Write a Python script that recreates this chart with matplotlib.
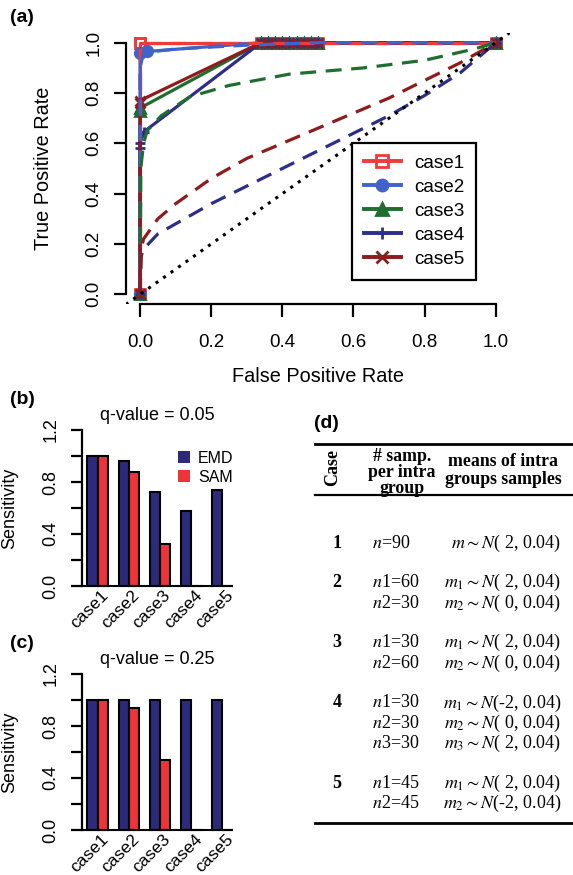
import matplotlib
matplotlib.use('Agg')
import matplotlib.pyplot as plt
import matplotlib.transforms as mtransforms
import numpy as np
from matplotlib.lines import Line2D
from matplotlib.patches import Patch

plt.rcParams['font.family'] = ['Liberation Sans', 'DejaVu Sans']
plt.rcParams['mathtext.fontset'] = 'stix'

# ---------------- data ----------------
cases = ['case1', 'case2', 'case3', 'case4', 'case5']
case_colors = ['#EE3B3B', '#3F63C9', '#1F6E30', '#2E2E88', '#8E1C1C']
case_markers = ['s', 'o', '^', '+', 'x']

# ROC curves, EMD (solid)
emd_fpr = [
    [0, 0, 0, 0.34, 0.36, 0.38, 0.40, 0.42, 0.44, 0.46, 0.48, 0.50, 1.0],
    [0, 0, 0.02, 0.34, 0.36, 0.38, 0.40, 0.42, 0.44, 0.46, 0.48, 0.50, 1.0],
    [0, 0, 0, 0.34, 0.36, 0.38, 0.40, 0.42, 0.44, 0.46, 0.48, 0.50, 1.0],
    [0, 0, 0, 0.01, 0.34, 0.36, 0.38, 0.40, 0.42, 0.44, 0.46, 0.48, 0.50, 1.0],
    [0, 0, 0, 0.34, 0.36, 0.38, 0.40, 0.42, 0.44, 0.46, 0.48, 0.50, 1.0],
]
emd_tpr = [
    [0, 1.0, 1.0, 1, 1, 1, 1, 1, 1, 1, 1, 1, 1],
    [0, 0.96, 0.965, 1, 1, 1, 1, 1, 1, 1, 1, 1, 1],
    [0, 0.73, 0.74, 1, 1, 1, 1, 1, 1, 1, 1, 1, 1],
    [0, 0.58, 0.60, 0.645, 1, 1, 1, 1, 1, 1, 1, 1, 1, 1],
    [0, 0.76, 0.77, 1, 1, 1, 1, 1, 1, 1, 1, 1, 1],
]

# ROC curves, SAM (dashed)
sam_fpr = [
    [0, 0, 1.0],
    [0, 0, 0.01, 0.1, 0.3, 0.5, 1.0],
    [0, 0.002, 0.01, 0.02, 0.06, 0.14, 0.25, 0.42, 0.63, 0.8, 0.94, 1.0],
    [0, 0.003, 0.01, 0.05, 0.1, 0.2, 0.3, 0.4, 0.5, 0.6, 0.7, 0.8, 0.9, 1.0],
    [0, 0.003, 0.01, 0.05, 0.1, 0.2, 0.3, 0.4, 0.5, 0.6, 0.7, 0.8, 0.9, 1.0],
]
sam_tpr = [
    [0, 1.0, 1.0],
    [0, 0.9, 0.96, 0.975, 0.99, 1.0, 1.0],
    [0, 0.5, 0.6, 0.65, 0.71, 0.785, 0.83, 0.875, 0.9, 0.93, 0.975, 1.0],
    [0, 0.15, 0.18, 0.24, 0.28, 0.36, 0.43, 0.5, 0.57, 0.64, 0.71, 0.79, 0.88, 1.0],
    [0, 0.18, 0.22, 0.3, 0.36, 0.46, 0.54, 0.6, 0.66, 0.72, 0.78, 0.85, 0.92, 1.0],
]

# sensitivity bars
emd_q05 = [1.0, 0.964, 0.725, 0.579, 0.738]
sam_q05 = [1.0, 0.879, 0.323, 0.0, 0.0]
emd_q25 = [1.0, 1.0, 1.0, 1.0, 1.0]
sam_q25 = [1.0, 0.941, 0.538, 0.0, 0.0]
emd_color = '#2D2A7C'
sam_color = '#EE3339'

# table (d)
table_case = ['1', '2', '3', '4', '5']
table_n = [[r'$n$=90'],
           [r'$n$1=60', r'$n$2=30'],
           [r'$n$1=30', r'$n$2=60'],
           [r'$n$1=30', r'$n$2=30', r'$n$3=30'],
           [r'$n$1=45', r'$n$2=45']]
table_means = [[r'$m\sim N$( 2, 0.04)'],
               [r'$m_1\sim N$( 2, 0.04)', r'$m_2\sim N$( 0, 0.04)'],
               [r'$m_1\sim N$( 2, 0.04)', r'$m_2\sim N$( 0, 0.04)'],
               [r'$m_1\sim N$(-2, 0.04)', r'$m_2\sim N$( 0, 0.04)', r'$m_3\sim N$( 2, 0.04)'],
               [r'$m_1\sim N$( 2, 0.04)', r'$m_2\sim N$(-2, 0.04)']]

W, H = 573, 875


def fx(x):
    return x / W


def fy(y):
    return 1 - y / H


fig = plt.figure(figsize=(W / 100, H / 100), dpi=100)

# ---------------- (a) ROC ----------------
ax = fig.add_axes([fx(125.8), fy(304.4), 384.2 / W, 271.8 / H])
for f, t, c, m in zip(emd_fpr, emd_tpr, case_colors, case_markers):
    mfc = 'none' if m == 's' else c
    ax.plot(f, t, color=c, lw=2.3, marker=m, ms=7.5, mfc=mfc, mew=2.0, clip_on=False)
for f, t, c in zip(sam_fpr, sam_tpr, case_colors):
    ax.plot(f, t, color=c, lw=2.3, ls=(0, (5, 3)), clip_on=False)
ax.axline((0, 0), (1, 1), color='black', lw=2.2, ls=(0, (1, 2.0)))

ax.set_xlim(-0.04, 1.04)
ax.set_ylim(-0.04, 1.04)
ticks = np.arange(0, 1.01, 0.2)
ax.set_xticks(ticks, [f'{v:.1f}' for v in ticks])
ax.set_yticks(ticks, [f'{v:.1f}' for v in ticks])
for s in ['top', 'right']:
    ax.spines[s].set_visible(False)
ax.spines['left'].set_bounds(0, 1)
ax.spines['bottom'].set_bounds(0, 1)
for s in ['left', 'bottom']:
    ax.spines[s].set_linewidth(1.6)
ax.tick_params(direction='out', length=9, width=1.6, labelsize=13.5, pad=12)
ax.tick_params(axis='y', pad=8)
for lab in ax.get_yticklabels():
    lab.set_rotation(90)
    lab.set_va('center')
fig.text(fx(44), fy(168.5), 'True Positive Rate', rotation=90, ha='center', va='center', fontsize=14.3)
fig.text(fx(318), fy(377), 'False Positive Rate', ha='center', va='center', fontsize=14.3)

handles = []
for c, m in zip(case_colors, case_markers):
    mfc = 'none' if m == 's' else c
    handles.append(Line2D([], [], color=c, lw=2.8, marker=m, ms=8, mfc=mfc, mew=2.0))
leg = ax.legend(handles, cases, loc='upper left', bbox_to_anchor=(0.589, 0.594), borderaxespad=0,
                fontsize=13.6, handlelength=1.95, handletextpad=0.7, labelspacing=0.36,
                borderpad=0.62, fancybox=False, edgecolor='black', framealpha=1)
leg.get_frame().set_linewidth(1.6)
fig.text(fx(10), fy(18), '(a)', fontsize=14, fontweight='bold', ha='left', va='center')


# ---------------- (b), (c) bars ----------------
def bar_panel(top_px, emd, sam, title, legend):
    h = 168.4
    a = fig.add_axes([fx(81.5), fy(top_px + h), 157.2 / W, h / H])
    emd_x = 1 + 3 * np.arange(len(cases))
    sam_x = emd_x + 1
    a.bar(emd_x, emd, width=1, align='edge', color=emd_color, edgecolor='black', lw=1.5)
    a.bar(sam_x, sam, width=1, align='edge', color=sam_color, edgecolor='black', lw=1.5)
    lo, hi = emd_x[0], sam_x[-1] + 1
    a.set_xlim(lo - 0.04 * (hi - lo), hi + 0.04 * (hi - lo))
    a.set_ylim(-0.048, 1.248)
    a.hlines(0, a.get_xlim()[0], hi, color='black', lw=1.5)
    for s in ['top', 'right', 'bottom']:
        a.spines[s].set_visible(False)
    a.spines['left'].set_bounds(0, 1.2)
    a.spines['left'].set_linewidth(1.6)
    yt = np.arange(0, 1.21, 0.2)
    a.set_yticks(yt, [f'{v:.1f}' if i % 2 == 0 else '' for i, v in enumerate(yt)])
    a.tick_params(axis='y', direction='out', length=8, width=1.6, labelsize=13, pad=8)
    for lab in a.get_yticklabels():
        lab.set_rotation(90)
        lab.set_va('center')
    a.set_xticks([])
    off = mtransforms.offset_copy(a.transData, fig=fig, x=3, y=-2, units='dots')
    for xc, name in zip(emd_x + 1, cases):
        a.text(xc, 0, name, transform=off, rotation=45, rotation_mode='anchor',
               ha='right', va='top', fontsize=12.5)
    a.text(0.48, 1.05, title, transform=a.transAxes, ha='center', va='center', fontsize=13)
    a.set_ylabel('Sensitivity', fontsize=13, labelpad=6)
    a.yaxis.set_label_coords((18 - 81.5) / 157.2, 0.5)
    if legend:
        a.legend([Patch(facecolor=emd_color, edgecolor='none'),
                  Patch(facecolor=sam_color, edgecolor='none')], ['EMD', 'SAM'],
                 loc='upper left', bbox_to_anchor=(0.614, 0.84), borderaxespad=0,
                 borderpad=0, frameon=False, fontsize=11.5, handlelength=0.75,
                 handleheight=0.75, handletextpad=0.5, labelspacing=0.25)
    return a


bar_panel(423.8, emd_q05, sam_q05, 'q-value = 0.05', True)
bar_panel(667.8, emd_q25, sam_q25, 'q-value = 0.25', False)
fig.text(fx(10), fy(400), '(b)', fontsize=14, fontweight='bold', ha='left', va='center')
fig.text(fx(10), fy(643), '(c)', fontsize=14, fontweight='bold', ha='left', va='center')

# ---------------- (d) table ----------------
fig.text(fx(314), fy(423), '(d)', fontsize=14, fontweight='bold', ha='left', va='center')
serif = ['Liberation Serif', 'DejaVu Serif']
for y, lw in [(443.5, 2.0), (495, 1.6), (822.5, 2.0)]:
    fig.add_artist(Line2D([fx(315), fx(573)], [fy(y), fy(y)], transform=fig.transFigure,
                          color='black', lw=lw))
fig.text(fx(333), fy(467), 'Case', rotation=90, ha='center', va='center', fontsize=13,
         fontweight='bold', family=serif)
fig.text(fx(402), fy(472.5), '# samp.\nper intra\ngroup', ha='center', va='center', fontsize=12.8,
         fontweight='bold', family=serif, linespacing=0.92)
fig.text(fx(503), fy(470.5), 'means of intra\ngroups samples', ha='center', va='center', fontsize=12.8,
         fontweight='bold', family=serif, linespacing=1.0)

y = 543
for cid, ns, ms in zip(table_case, table_n, table_means):
    fig.text(fx(337), fy(y), cid, ha='center', va='center', fontsize=13, fontweight='bold', family=serif)
    for n_txt, m_txt in zip(ns, ms):
        fig.text(fx(372), fy(y), n_txt, ha='left', va='center', fontsize=13, family=serif)
        fig.text(fx(561), fy(y), m_txt, ha='right', va='center', fontsize=13, family=serif)
        y += 20.3
    y += 19.5

fig.savefig('out.png', dpi=100)
